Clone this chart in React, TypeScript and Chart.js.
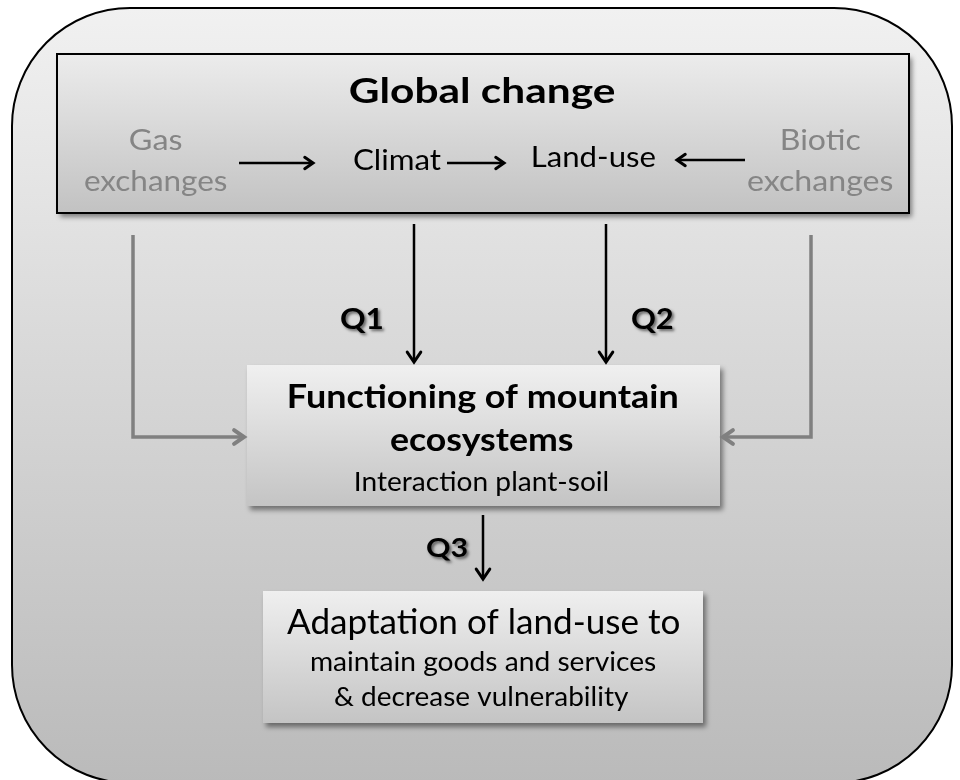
import React, { useEffect, useRef } from "react";
import { Chart, registerables } from "chart.js";

Chart.register(...registerables);

// ---------- content (text) ----------
const titleText = "Global change";
const driverTexts = [["Gas", "exchanges"], ["Climat"], ["Land-use"], ["Biotic", "exchanges"]];
const questionTexts = ["Q1", "Q2", "Q3"];
const functionTexts = ["Functioning of mountain", "ecosystems", "Interaction plant-soil"];
const adaptTexts = ["Adaptation of land-use to", "maintain goods and services", "& decrease vulnerability"];

// ---------- layout (diagram coordinates, data units on 0..960 x 0..780) ----------
const FONT = "Lato, 'Open Sans', sans-serif";
const frame = { x0: 12, y0: 8, x1: 952, y1: 783, r: 118 };
const boxes = [
  { x0: 57, y0: 54, x1: 909, y1: 213, top: "#ececec", bottom: "#c2c2c2", border: true },
  { x0: 247, y0: 365, x1: 720, y1: 506, top: "#f0f0f0", bottom: "#c4c4c4", border: false },
  { x0: 263, y0: 591, x1: 703, y1: 723, top: "#efefef", bottom: "#c4c4c4", border: false },
];
// text placements: [x0, x1, baseline, capHeight, weight, color]
type TL = [number, number, number, number, string, string];
const titleLayout: TL = [350, 615, 103, 25, "bold", "#000"];
const driverLayout: TL[][] = [
  [[130, 182, 150, 21, "normal", "#858585"], [85, 227, 191, 21, "normal", "#858585"]],
  [[354, 441, 170, 20.5, "normal", "#000"]],
  [[533, 655, 167, 20.5, "normal", "#000"]],
  [[782, 861, 150, 21, "normal", "#858585"], [748, 893, 191, 21, "normal", "#858585"]],
];
const questionLayout: TL[] = [
  [341, 382, 329, 21, "bold", "#000"],
  [632, 673, 329, 21, "bold", "#000"],
  [427, 467, 557, 20, "bold", "#000"],
];
const functionLayout: TL[] = [
  [289, 677, 408, 24, "bold", "#000"],
  [391, 573, 451, 24, "bold", "#000"],
  [356, 608, 491, 19, "normal", "#000"],
];
const adaptLayout: TL[] = [
  [287, 679, 634, 25, "normal", "#000"],
  [311, 656, 671, 19, "normal", "#000"],
  [335, 629, 706, 19, "normal", "#000"],
];
const connectors = [
  { pts: [[133, 235], [133, 437], [244, 437]], color: "#808080", width: 3.5, head: 12 },
  { pts: [[811, 235], [811, 437], [723, 437]], color: "#808080", width: 3.5, head: 12 },
  { pts: [[414, 224], [414, 362]], color: "#000", width: 2.5, head: 12 },
  { pts: [[606, 224], [606, 362]], color: "#000", width: 2.5, head: 12 },
  { pts: [[483, 515], [483, 579]], color: "#000", width: 2.5, head: 12 },
  { pts: [[239, 163], [313, 163]], color: "#000", width: 2.5, head: 10 },
  { pts: [[447, 163], [504, 163]], color: "#000", width: 2.5, head: 10 },
  { pts: [[745, 160], [677, 160]], color: "#000", width: 2.5, head: 10 },
];

function drawText(ctx: CanvasRenderingContext2D, xs: any, ys: any, text: string, l: TL, shadow = false) {
  const [x0, x1, base, capH, weight, color] = l;
  const px0 = xs.getPixelForValue(x0);
  const px1 = xs.getPixelForValue(x1);
  const pb = ys.getPixelForValue(base);
  const capPx = Math.abs(ys.getPixelForValue(base - capH) - pb);
  ctx.save();
  ctx.font = `${weight} 100px ${FONT}`;
  const ratio = ctx.measureText("H").actualBoundingBoxAscent / 100 || 0.72;
  const size = capPx / ratio;
  ctx.font = `${weight} ${size}px ${FONT}`;
  const m = ctx.measureText(text);
  const w = (m.actualBoundingBoxRight + m.actualBoundingBoxLeft) || m.width;
  const sx = (px1 - px0) / w;
  ctx.translate(px0, pb);
  ctx.scale(sx, 1);
  ctx.textAlign = "left";
  ctx.textBaseline = "alphabetic";
  ctx.fillStyle = color;
  if (shadow) {
    ctx.shadowColor = "rgba(0,0,0,0.55)";
    ctx.shadowOffsetX = 2;
    ctx.shadowOffsetY = 2;
    ctx.shadowBlur = 3;
  }
  ctx.fillText(text, m.actualBoundingBoxLeft || 0, 0);
  ctx.restore();
}

const diagramPlugin = {
  id: "diagram",
  beforeDatasetsDraw(chart: any) {
    const ctx: CanvasRenderingContext2D = chart.ctx;
    const xs = chart.scales.x, ys = chart.scales.y;
    const X = (v: number) => xs.getPixelForValue(v);
    const Y = (v: number) => ys.getPixelForValue(v);
    ctx.save();
    ctx.fillStyle = "#ffffff";
    ctx.fillRect(0, 0, chart.width, chart.height);
    // outer rounded frame
    const fx0 = X(frame.x0), fy0 = Y(frame.y0), fx1 = X(frame.x1), fy1 = Y(frame.y1);
    const g = ctx.createLinearGradient(0, fy0, 0, fy1);
    g.addColorStop(0, "#f1f1f1");
    g.addColorStop(1, "#bababa");
    ctx.beginPath();
    (ctx as any).roundRect(fx0, fy0, fx1 - fx0, fy1 - fy0, frame.r);
    ctx.fillStyle = g;
    ctx.fill();
    ctx.lineWidth = 2;
    ctx.strokeStyle = "#000";
    ctx.stroke();
    // boxes
    boxes.forEach((b) => {
      const x0 = X(b.x0), y0 = Y(b.y0), x1 = X(b.x1), y1 = Y(b.y1);
      const bg = ctx.createLinearGradient(0, y0, 0, y1);
      bg.addColorStop(0, b.top);
      bg.addColorStop(1, b.bottom);
      ctx.save();
      ctx.shadowColor = "rgba(0,0,0,0.45)";
      ctx.shadowOffsetX = 3;
      ctx.shadowOffsetY = 4;
      ctx.shadowBlur = 5;
      ctx.fillStyle = bg;
      ctx.fillRect(x0, y0, x1 - x0, y1 - y0);
      ctx.restore();
      if (b.border) {
        ctx.lineWidth = 2;
        ctx.strokeStyle = "#000";
        ctx.strokeRect(x0, y0, x1 - x0, y1 - y0);
      }
    });
    ctx.restore();
  },
  afterDatasetsDraw(chart: any) {
    const ctx: CanvasRenderingContext2D = chart.ctx;
    const xs = chart.scales.x, ys = chart.scales.y;
    // arrowheads at the end of each connector dataset
    chart.data.datasets.forEach((ds: any, i: number) => {
      const d = ds.data;
      const a = d[d.length - 2], b = d[d.length - 1];
      const ax = xs.getPixelForValue(a.x), ay = ys.getPixelForValue(a.y);
      const bx = xs.getPixelForValue(b.x), by = ys.getPixelForValue(b.y);
      const ang = Math.atan2(by - ay, bx - ax);
      const L = connectors[i].head;
      const spread = 0.6;
      ctx.save();
      ctx.strokeStyle = ds.borderColor;
      ctx.lineWidth = ds.borderWidth + 0.5;
      ctx.lineJoin = "miter";
      ctx.lineCap = "round";
      ctx.beginPath();
      ctx.moveTo(bx - L * Math.cos(ang - spread), by - L * Math.sin(ang - spread));
      ctx.lineTo(bx, by);
      ctx.lineTo(bx - L * Math.cos(ang + spread), by - L * Math.sin(ang + spread));
      ctx.stroke();
      ctx.restore();
    });
    // texts
    drawText(ctx, xs, ys, titleText, titleLayout);
    driverTexts.forEach((lines, i) => lines.forEach((t, j) => drawText(ctx, xs, ys, t, driverLayout[i][j])));
    questionTexts.forEach((t, i) => drawText(ctx, xs, ys, t, questionLayout[i], true));
    functionTexts.forEach((t, i) => drawText(ctx, xs, ys, t, functionLayout[i]));
    adaptTexts.forEach((t, i) => drawText(ctx, xs, ys, t, adaptLayout[i]));
  },
};

export default function App() {
  const ref = useRef<HTMLCanvasElement | null>(null);
  useEffect(() => {
    document.body.style.margin = "0";
    document.body.style.overflow = "hidden";
    const canvas = ref.current!;
    const chart = new Chart(canvas, {
      type: "scatter",
      data: {
        datasets: connectors.map((c) => ({
          data: c.pts.map(([x, y]) => ({ x, y })),
          showLine: true,
          borderColor: c.color,
          borderWidth: c.width,
          pointRadius: 0,
          tension: 0,
          fill: false,
          borderJoinStyle: "miter",
        })),
      } as any,
      options: {
        animation: false,
        responsive: false,
        events: [],
        layout: { padding: 0 },
        plugins: { legend: { display: false }, tooltip: { enabled: false } },
        scales: {
          x: { type: "linear", min: 0, max: 960, display: false },
          y: { type: "linear", min: 0, max: 780, reverse: true, display: false },
        },
      } as any,
      plugins: [diagramPlugin],
    });
    return () => chart.destroy();
  }, []);
  return <canvas ref={ref} width={960} height={780} style={{ display: "block" }} />;
}
